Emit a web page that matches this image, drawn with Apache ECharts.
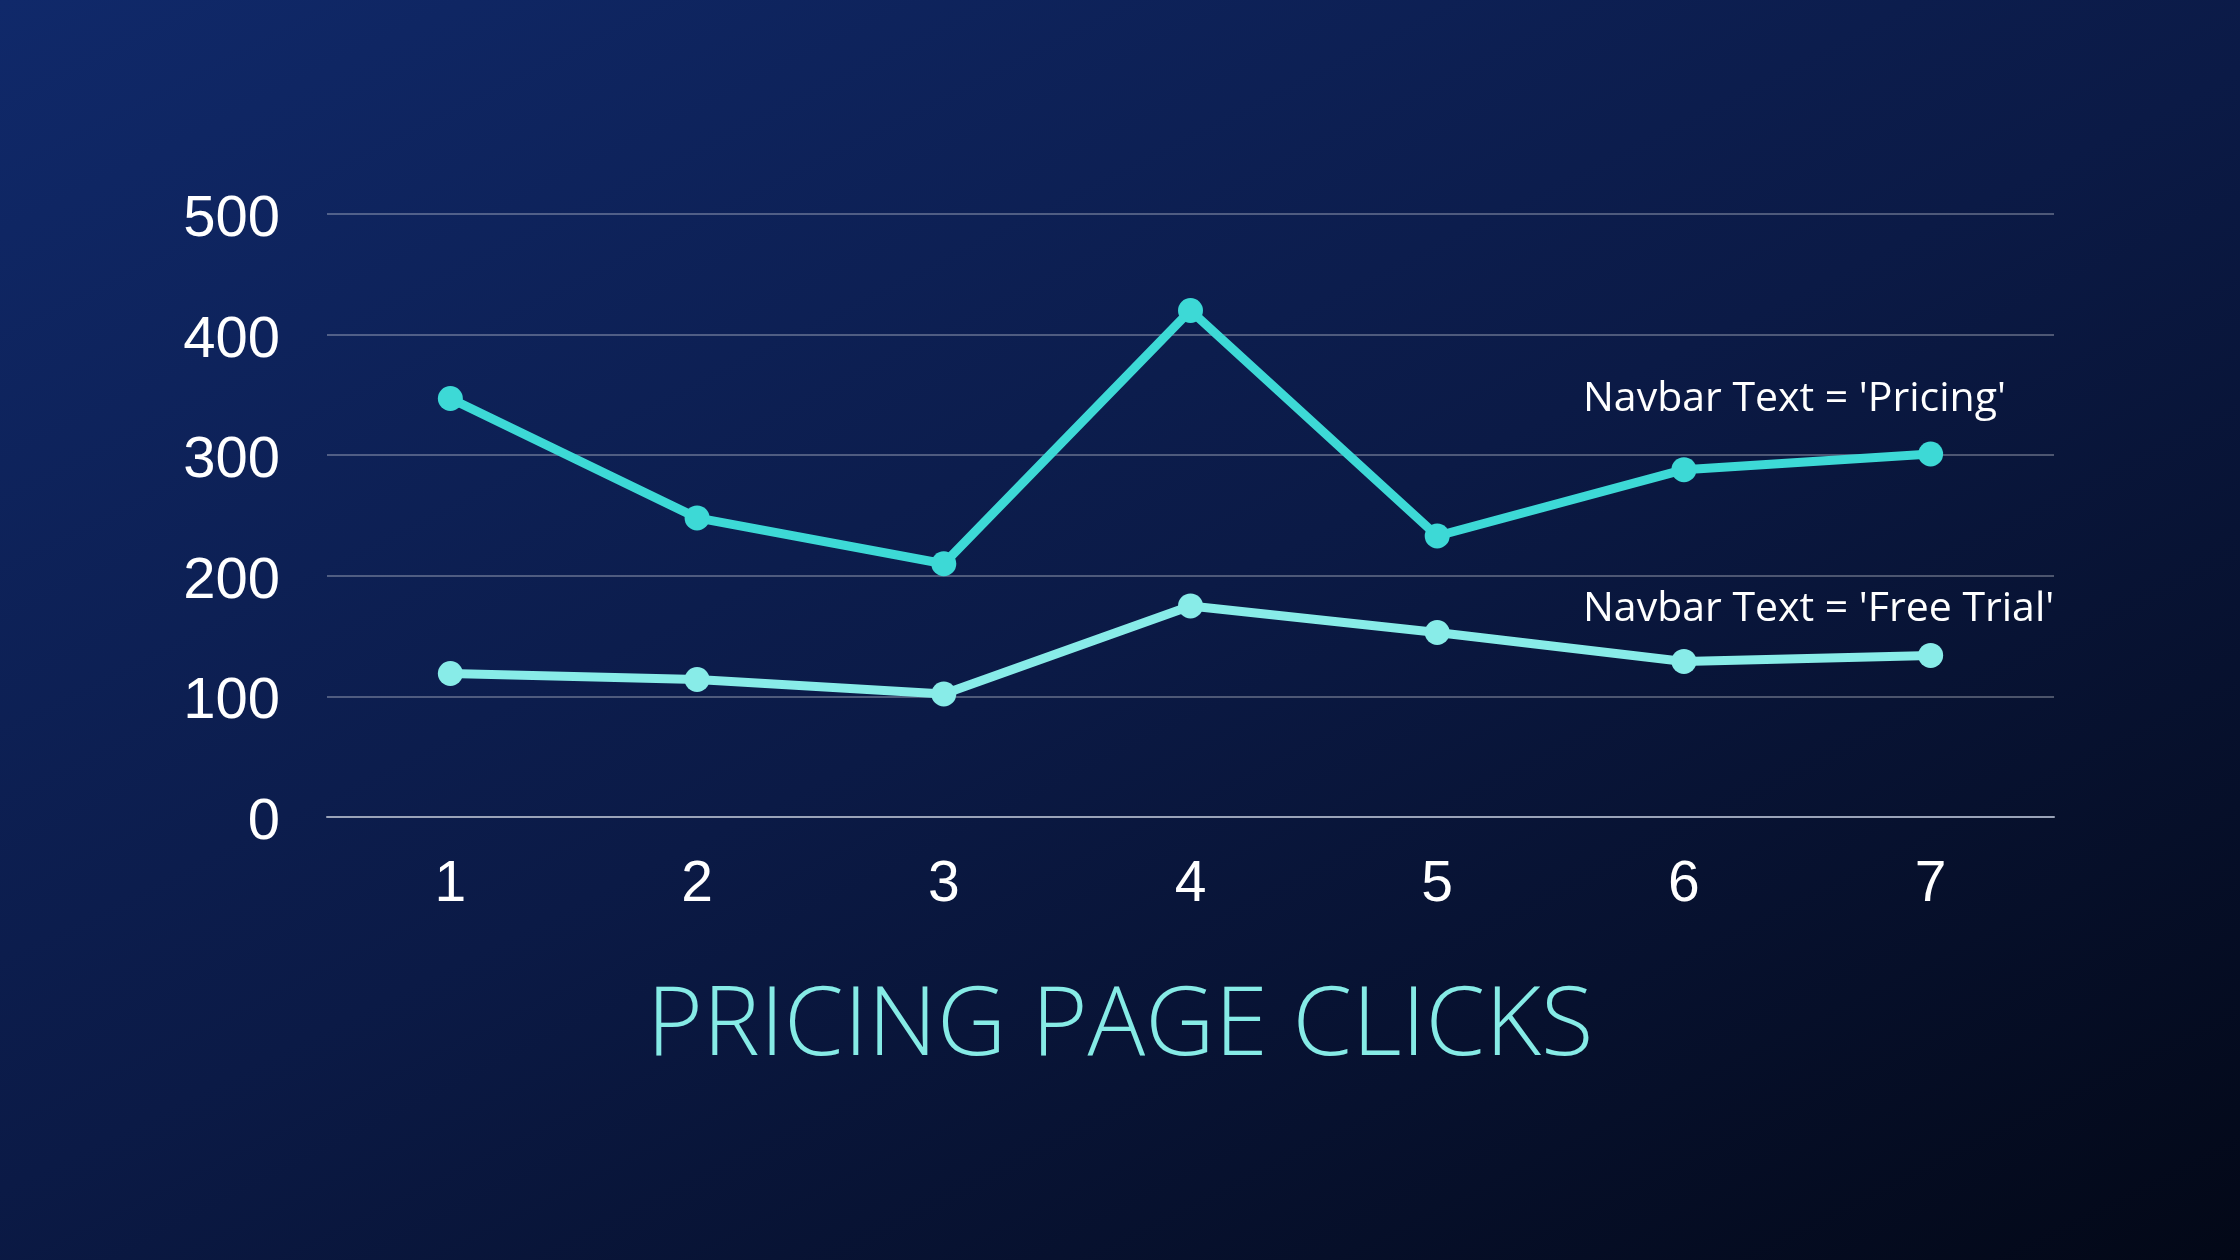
<!DOCTYPE html>
<html>
<head>
<meta charset="utf-8">
<title>Pricing Page Clicks</title>
<script src="https://cdn.jsdelivr.net/npm/echarts@6/dist/echarts.min.js"></script>
<style>
  html, body { margin: 0; padding: 0; background: #0a1740; }
</style>
</head>
<body>
    <div id="main" style="width: 2240px;height:1260px;"></div>
    <script type="text/javascript">
        // 数据
        var categories = ['1', '2', '3', '4', '5', '6', '7'];
        var pricing = [347, 248, 210, 420, 233, 288, 301];
        var freeTrial = [119, 114, 102, 175, 153, 129, 134];
        var yTicks = [0, 100, 200, 300, 400, 500];
        var seriesNames = ["Navbar Text = 'Pricing'", "Navbar Text = 'Free Trial'"];
        var chartTitle = 'PRICING PAGE CLICKS';

        var myChart = echarts.init(document.getElementById('main'));

        var option = {
            // 背景渐变：左上偏亮蓝，右下近黑
            backgroundColor: {
                type: 'linear',
                global: true,
                x: 0, y: 0, x2: 952, y2: 1904,
                colorStops: [
                    { offset: 0, color: '#10296a' },
                    { offset: 0.5, color: '#0b1a46' },
                    { offset: 1, color: '#030817' }
                ]
            },
            animation: false,
            title: {
                text: chartTitle,
                left: 'center',
                top: 975,
                textStyle: {
                    color: '#86ebe6',
                    fontFamily: 'Open Sans',
                    fontWeight: 300,
                    fontSize: 96
                }
            },
            // 线条旁的说明文字
            graphic: [
                {
                    type: 'text',
                    left: 1583,
                    top: 379,
                    style: {
                        text: seriesNames[0],
                        fill: '#ffffff',
                        font: '41px "Open Sans"'
                    }
                },
                {
                    type: 'text',
                    left: 1583,
                    top: 589,
                    style: {
                        text: seriesNames[1],
                        fill: '#ffffff',
                        font: '41px "Open Sans"'
                    }
                }
            ],
            grid: {
                left: 327,
                right: 186,
                top: 214,
                bottom: 443
            },
            xAxis: {
                type: 'category',
                data: categories,
                boundaryGap: true,
                axisTick: { show: false },
                axisLine: {
                    lineStyle: { color: '#9aa3b8', width: 2 }
                },
                axisLabel: {
                    color: '#ffffff',
                    fontFamily: 'Liberation Sans',
                    fontSize: 57,
                    margin: 40
                }
            },
            yAxis: {
                type: 'value',
                min: yTicks[0],
                max: yTicks[yTicks.length - 1],
                interval: 100,
                axisLine: { show: false },
                axisTick: { show: false },
                axisLabel: {
                    margin: 47,
                    // 数字略微下移，和参考图对齐
                    formatter: '{v|{value}}',
                    rich: {
                        v: {
                            color: '#ffffff',
                            fontFamily: 'Liberation Sans',
                            fontSize: 58,
                            padding: [12, 0, 0, 0]
                        }
                    }
                },
                splitLine: {
                    lineStyle: { color: 'rgba(255,255,255,0.28)', width: 2 }
                }
            },
            series: [
                {
                    name: seriesNames[0],
                    type: 'line',
                    data: pricing,
                    symbol: 'circle',
                    symbolSize: 25,
                    lineStyle: { color: '#3dd9d6', width: 9 },
                    itemStyle: { color: '#3dd9d6' }
                },
                {
                    name: seriesNames[1],
                    type: 'line',
                    data: freeTrial,
                    symbol: 'circle',
                    symbolSize: 25,
                    lineStyle: { color: '#88ece8', width: 9 },
                    itemStyle: { color: '#88ece8' }
                }
            ]
        };

        myChart.setOption(option);
    </script>
</body>
</html>
